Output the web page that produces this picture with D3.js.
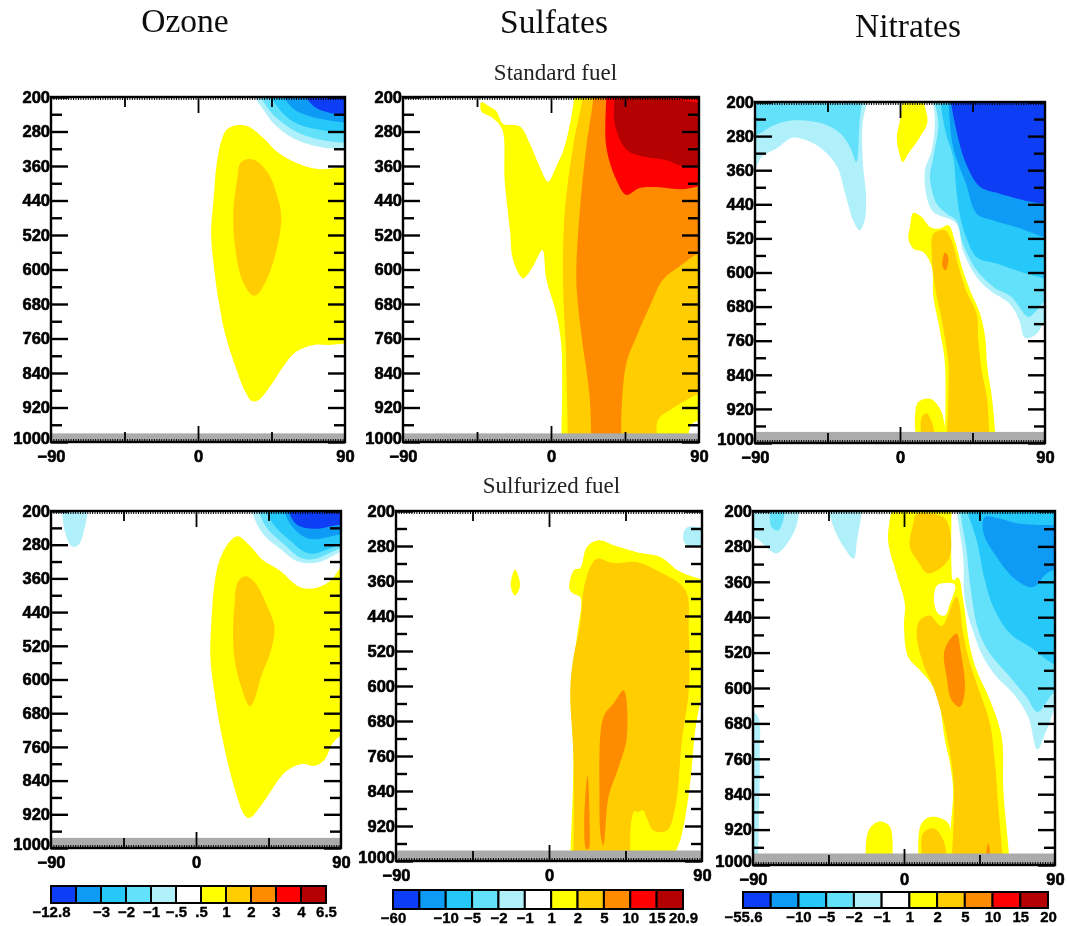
<!DOCTYPE html>
<html><head><meta charset="utf-8">
<script src="https://cdn.jsdelivr.net/npm/d3@7"></script>
<style>html,body{margin:0;padding:0;background:#fff}svg{display:block}</style>
</head><body><div id="chart"></div>
<script>
// Contour level colours, coldest to warmest (index = level)
const levelColors = ["#0a3cf5","#0a9bf5","#28c8fa","#64e1fa","#aff0fa","#ffffff","#ffff00","#ffcd00","#ff8c00","#ff0000","#b40000"];
const pressureMajor = [200,280,360,440,520,600,680,760,840,920,1000];
const pressureMinor = [240,320,400,480,560,640,720,800,880,960];
const latLabelled = [-90,0,90];
const latInner = [-45,45];
const latCentre = [0];
const latFine = d3.range(-90,90.1,1.5);

// Each contour: [level, [[latitude, pressure], ...]] in paint order
const ozoneStandard = [
 [6,[[21.6,267],[30,267],[40,295],[48,326],[58,349],[73,367],[92,362],[92,771],[80,775],[71,775],[60,791],[52,826],[44,872],[37,903],[33,905],[29,884],[23,826],[16.5,748],[12.5,671],[10,601],[8,516],[9.5,439],[11.5,353],[14.5,299],[17.5,276]]],
 [7,[[31,344],[36,349],[43,377],[48,423],[51,477],[48,555],[42,624],[36,659],[33,659],[27,624],[22.7,547],[21.6,469],[24,392],[26,353]]],
 [4,[[34,191],[40,229],[46,260],[58,295],[73,315],[83,320],[93,322],[93,191]]],
 [3,[[38,191],[45,237],[52,260],[62,284],[75,299],[93,307],[93,191]]],
 [2,[[44,191],[50,229],[58,257],[69,272],[93,284],[93,191]]],
 [1,[[52,191],[58,226],[69,245],[93,260],[93,191]]],
 [0,[[65.5,191],[71,222],[81,237],[93,241],[93,191]]]
];
const sulfateStandard = [
 [6,[[-42.4,212],[-38.3,220],[-33.2,233],[-29.2,262],[-19,268],[-13,307],[-6.9,361],[-1.8,396],[3.2,361],[8.3,315],[14.4,191],[95,191],[95,1010],[6.3,1010],[6.3,779],[3.2,702],[-2.8,624],[-5.3,555],[-11,593],[-17,620],[-23,578],[-25,508],[-28.2,392],[-29.6,276],[-35.3,249],[-42.4,233]]],
 [5,[[83,1010],[86,957],[95,950],[95,1010]]],
 [7,[[19.5,191],[13.4,315],[8.3,469],[7.3,624],[8.9,779],[10.3,1010],[65,1010],[65,950],[74,922],[86,895],[95,880],[95,191]]],
 [8,[[26,191],[21.5,315],[17.4,469],[15.4,624],[18.4,748],[23.5,895],[24.5,1010],[42.8,1010],[42.8,934],[45.8,818],[51.9,756],[60,686],[68,624],[78,593],[94.5,555],[94.5,191]]],
 [9,[[33.6,191],[33.6,315],[39.7,392],[45.8,427],[53.9,411],[66,409],[80,414],[94.5,404],[94.5,191]]],
 [10,[[38.7,191],[38.7,260],[45.8,322],[56,338],[70,346],[81,361],[94.5,357],[94.5,214],[78,206],[66,191]]]
];
const nitrateStandard = [
 [4,[[-19,180],[-23,243],[-23,345],[-21,423],[-22,478],[-25,501],[-29,478],[-34,415],[-39,352],[-47.6,313],[-58,290],[-67,284],[-75.5,306],[-86,329],[-90,352],[-95,352],[-95,180]]],
 [3,[[-23,180],[-25,243],[-27,341],[-31,306],[-37,274],[-47.6,251],[-66,243],[-78.6,255],[-90,278],[-95,278],[-95,180]]],
 [6,[[2,180],[13.5,180],[17,247],[12.4,282],[5.2,321],[1.7,341],[-0.4,321],[-2,282],[0,243]]],
 [4,[[19.7,180],[21.7,243],[19.7,313],[15.5,360],[16.6,423],[20.7,458],[35,485],[39,548],[47.6,611],[55.9,642],[68,673],[74,712],[77.6,753],[83.8,747],[89,720],[95,689],[95,180]]],
 [3,[[20.7,180],[23.8,251],[20.7,329],[18.6,376],[22.8,439],[29,462],[35,478],[39,532],[47.6,595],[58,634],[69,657],[79.7,704],[84.8,689],[95,650],[95,180]]],
 [2,[[24.8,180],[28,266],[33,329],[35,407],[37,462],[41,517],[47.6,564],[60,579],[72,595],[95,618],[95,180]]],
 [1,[[30,180],[33,306],[41,392],[47.6,462],[58,478],[72,493],[95,521],[95,180]]],
 [0,[[31,180],[35,266],[41,345],[49.7,399],[62,415],[82.8,435],[95,439],[95,180]]],
 [6,[[8.3,460],[13.5,470],[18.6,493],[24.8,497],[30,489],[34,525],[39,595],[43.5,642],[49.7,697],[52.8,751],[54.2,822],[57,892],[59.6,1010],[27.9,1010],[27.9,814],[24.8,736],[20.7,657],[19.7,587],[14.5,552],[8.3,544],[5.2,521],[6.2,493]]],
 [7,[[20.7,509],[27.9,501],[32,525],[37,595],[41,642],[47.6,697],[48.6,759],[50.7,830],[54.2,900],[55.5,1010],[29,1010],[30,892],[30,814],[25.9,712],[21.7,634],[19.7,556]]],
 [8,[[27.9,553],[30,564],[28.3,595],[26.5,587],[26.5,568]]],
 [6,[[10.3,1010],[9.3,939],[11.4,904],[18.6,896],[24.8,919],[27.9,962],[28.6,1010]]],
 [7,[[13.5,1010],[13.5,939],[16.6,931],[19.7,951],[22.8,1010]]]
];
const ozoneSulfurized = [
 [4,[[-83.4,190],[-67,190],[-69,238],[-73,281],[-77,284],[-81,254]]],
 [6,[[26,260],[33,281],[41.5,317],[52,341],[64,380],[72.4,384],[82.8,368],[93,325],[93,727],[85,751],[79.7,791],[73.5,805],[66,800],[56,818],[49.7,846],[41.5,893],[33,929],[30,921],[23,846],[15.7,727],[11.5,633],[8.9,546],[9.5,467],[11.5,372],[14.6,317],[20.8,273]]],
 [7,[[31,355],[37,372],[43.5,420],[48.7,475],[46.6,530],[40.4,593],[35.3,656],[33.2,663],[28,617],[24,554],[23,491],[24,420],[26,368]]],
 [4,[[34,190],[41.5,254],[52,289],[64,321],[76.6,321],[93,293],[93,190]]],
 [3,[[38.4,190],[43.5,238],[54,277],[66,313],[74.5,313],[93,285],[93,190]]],
 [2,[[42.5,190],[47.7,230],[58,269],[70.4,301],[93,277],[93,190]]],
 [1,[[54,190],[60,238],[70.4,266],[93,254],[93,190]]],
 [0,[[57,190],[62,230],[72.4,242],[93,230],[93,190]]]
];
const sulfateSulfurized = [
 [6,[[-20,334],[-17,370],[-20,393],[-22.5,370]]],
 [4,[[78.8,259],[81,238],[93,238],[93,278],[81,278]]],
 [6,[[29.2,267],[38,278],[51.7,294],[65.5,305],[77.2,339],[93,358],[93,534],[89.4,625],[86,701],[83,823],[78.2,938],[72.3,1010],[12.5,1010],[14.4,762],[12.9,610],[16.4,488],[18.4,397],[14.4,389],[12,378],[14.8,334],[18.4,330],[22.3,282]]],
 [7,[[28.2,309],[38,319],[51.7,317],[63.5,336],[80.2,381],[82.2,473],[82.2,610],[78.2,724],[74.3,877],[69.4,930],[61.5,930],[57.6,903],[55.3,884],[52,888],[50.2,886],[48.2,915],[47.8,1010],[14.4,1010],[14.4,762],[12.5,610],[14.4,534],[18.4,458],[20.3,381],[24.3,328]]],
 [8,[[43.9,610],[45.8,717],[41,785],[35,854],[32,964],[30.5,945],[29.7,854],[32,671],[38,640]]],
 [8,[[22.7,804],[23.9,915],[23.3,972],[21.9,972],[20.7,915]]]
];
const nitrateSulfurized = [
 [4,[[-62,191],[-66,251],[-76,296],[-82,281],[-88,262],[-92,259],[-92,191]]],
 [3,[[-80,191],[-79,236],[-75,244],[-72,221],[-71,191]]],
 [4,[[-45,191],[-25,191],[-28,266],[-30,308],[-36,281],[-42,236]]],
 [4,[[-92,650],[-87,665],[-86,755],[-87,1010],[-92,1010]]],
 [4,[[31.3,191],[35.3,304],[36.3,402],[42.3,484],[47.2,530],[55.2,575],[65,612],[74,665],[79.5,739],[85,695],[93,635],[93,191]]],
 [3,[[33.3,191],[37.3,289],[39.3,364],[44.3,469],[51.2,522],[63.2,575],[73,620],[79.5,654],[89,612],[93,605],[93,191]]],
 [2,[[37.3,191],[43.3,266],[48.2,356.5],[53.2,417],[63.2,477],[75,507],[93,552],[93,191]]],
 [1,[[48.2,213.5],[57,217],[69,229],[93,232],[93,330],[85,341],[77,372],[67,356.5],[55.2,304],[47.2,247]]],
 [6,[[-7.5,191],[28.3,191],[28.3,326],[29.3,356.5],[32.3,350.5],[35.3,402],[39.3,507],[43.3,560],[51.2,627],[58.2,710],[59.2,831],[63.2,1010],[26.4,1010],[27.7,921],[29.3,831],[27.4,770],[24.4,718],[21.4,642.5],[17.4,597],[9.5,560],[2.5,530],[0,462],[0.5,409],[-4.5,341],[-9.5,266]]],
 [5,[[18.4,379],[20.4,366],[30.3,366],[27.4,409],[24.4,436],[20.4,432],[18,409]]],
 [7,[[5.5,229],[7.5,207.5],[23.4,213.5],[27.4,244],[26.4,311],[14.4,341],[8.5,315],[3.5,281]]],
 [7,[[15.4,436],[22.4,460],[31.3,394],[35.3,477],[38.3,530],[43.3,590],[51.2,680],[54.2,770],[56.2,868],[59.2,1010],[28.3,1010],[29.7,883],[29.3,800],[26.4,725],[22.4,658],[17.4,597],[11.4,545],[7.5,477],[9.5,447]]],
 [8,[[31.3,477],[33.7,515],[36.3,605],[33.3,642.5],[28.3,627],[25.4,575],[23.8,522],[26.4,496]]],
 [8,[[50.2,951],[52.2,1010],[48.2,1010]]],
 [6,[[-23,1010],[-21,921],[-15,902],[-8.5,913],[-7,1010]]],
 [6,[[8.5,1010],[10.4,906],[16.4,891],[26.4,906],[27.4,1010]]],
 [7,[[11,1010],[11.4,928.5],[17.4,917],[23.4,943],[25.8,1010]]]
];

const columnTitles = ["Ozone","Sulfates","Nitrates"];
const rowTitles = ["Standard fuel","Sulfurized fuel"];
const ozoneBarLabels = ["−12.8","","−3","−2","−1","−.5",".5","1","2","3","4","6.5"];
const sulfateBarLabels = ["−60","","−10","−5","−2","−1","1","2","5","10","15","20.9"];
const nitrateBarLabels = ["−55.6","","−10","−5","−2","−1","1","2","5","10","15","20"];
const surfaceTop = [980,980,974,976,976,974];

// Layout
const W = 1067, H = 926;
const frames = [
 {x0:51,x1:345,y0:97,y1:442,c:ozoneStandard},
 {x0:403,x1:699,y0:97,y1:442,c:sulfateStandard},
 {x0:755,x1:1045,y0:102,y1:443,c:nitrateStandard},
 {x0:51,x1:341,y0:511,y1:848,c:ozoneSulfurized},
 {x0:396,x1:702,y0:511,y1:861,c:sulfateSulfurized},
 {x0:753,x1:1055,y0:511,y1:865,c:nitrateSulfurized}
];
const bars = [
 {x0:51,x1:326,y0:886,y1:903,labels:ozoneBarLabels},
 {x0:393,x1:683,y0:890,y1:909,labels:sulfateBarLabels},
 {x0:743,x1:1048,y0:892,y1:908,labels:nitrateBarLabels}
];

// Where a ring runs along the outside of the plot, push it further out so the
// smoothing cannot bulge back into the visible field.
function sealed(ring){
  const out = [];
  ring.forEach((p,i)=>{
    const q = ring[(i+1)%ring.length];
    out.push(p);
    if(p[1]>=1000&&q[1]>=1000) out.push([p[0],p[1]+70],[q[0],q[1]+70]);
    else if(p[1]<=200&&q[1]<=200) out.push([p[0],p[1]-70],[q[0],q[1]-70]);
    else if(p[0]>=90&&q[0]>=90) out.push([p[0]+25,p[1]],[q[0]+25,q[1]]);
    else if(p[0]<=-90&&q[0]<=-90) out.push([p[0]-25,p[1]],[q[0]-25,q[1]]);
  });
  return out;
}

const svg = d3.select("#chart").append("svg").attr("width",W).attr("height",H).attr("viewBox",[0,0,W,H]);
const defs = svg.append("defs");
function blur(id,sd){
  defs.append("filter").attr("id",id).attr("filterUnits","userSpaceOnUse")
    .attr("x",0).attr("y",0).attr("width",W).attr("height",H)
    .append("feGaussianBlur").attr("stdDeviation",sd);
}
blur("soft",0.7); blur("softer",0.4); blur("softest",0.7);

const fieldLayer = svg.append("g").attr("filter","url(#soft)");
const axisLayer = svg.append("g").attr("filter","url(#soft)");
const labelLayer = svg.append("g").attr("filter","url(#softest)");
const titleLayer = svg.append("g").attr("filter","url(#softer)");

const boldFont = "'Liberation Sans',Arial,sans-serif";

function styleLabels(g,size,stroke){
  g.select(".domain").remove();
  g.selectAll("text").attr("font-family",boldFont).attr("font-weight","bold")
    .attr("font-size",size).attr("fill","#000").attr("stroke","#000").attr("stroke-width",stroke);
}

frames.forEach((f,i)=>{
  const x = d3.scaleLinear().domain([-90,90]).range([f.x0,f.x1]);
  const y = d3.scaleLinear().domain([200,1000]).range([f.y0,f.y1]);
  const clipId = "clip"+i;
  defs.append("clipPath").attr("id",clipId).append("rect")
    .attr("x",x(-90)).attr("y",y(200)).attr("width",x(90)-x(-90)).attr("height",y(1000)-y(200));
  const line = d3.line().x(d=>x(d[0])).y(d=>y(d[1])).curve(d3.curveCatmullRomClosed.alpha(0.5));
  const g = fieldLayer.append("g").attr("clip-path",`url(#${clipId})`);
  g.append("rect").attr("x",x(-90)).attr("y",y(200)).attr("width",x(90)-x(-90)).attr("height",y(1000)-y(200)).attr("fill","#fff");
  g.selectAll("path").data(f.c).join("path")
    .attr("d",d=>line(sealed(d[1]))).attr("fill",d=>levelColors[d[0]]);
  g.append("rect").attr("x",x(-90)).attr("y",y(surfaceTop[i]))
    .attr("width",x(90)-x(-90)).attr("height",y(1000)-y(surfaceTop[i])).attr("fill","#ababab");

  const a = axisLayer.append("g");
  const put = (axis,tx,ty,w)=>{
    const s = a.append("g").attr("transform",`translate(${tx},${ty})`).call(axis);
    s.select(".domain").remove();
    s.selectAll("line").attr("stroke","#000").attr("stroke-width",w);
    s.selectAll("text").remove();
  };
  put(d3.axisLeft(y).tickValues(pressureMajor).tickSize(-17),x(-90),0,2.4);
  put(d3.axisLeft(y).tickValues(pressureMinor).tickSize(-11),x(-90),0,2.4);
  put(d3.axisRight(y).tickValues(pressureMajor).tickSize(-17),x(90),0,2.4);
  put(d3.axisRight(y).tickValues(pressureMinor).tickSize(-11),x(90),0,2.4);
  put(d3.axisBottom(x).tickValues(latInner).tickSize(-10),0,y(1000),1.8);
  put(d3.axisTop(x).tickValues(latInner).tickSize(-10),0,y(200),1.8);
  put(d3.axisBottom(x).tickValues(latCentre).tickSize(-16),0,y(1000),1.8);
  put(d3.axisTop(x).tickValues(latCentre).tickSize(-16),0,y(200),1.8);
  put(d3.axisBottom(x).tickValues(latFine).tickSize(-3),0,y(1000),1);
  put(d3.axisTop(x).tickValues(latFine).tickSize(-3),0,y(200),1);
  a.append("rect").attr("x",x(-90)).attr("y",y(200)).attr("width",x(90)-x(-90)).attr("height",y(1000)-y(200))
    .attr("fill","none").attr("stroke","#000").attr("stroke-width",2.4);

  const yl = labelLayer.append("g").attr("transform",`translate(${x(-90)},0)`)
    .call(d3.axisLeft(y).tickValues(pressureMajor).tickSize(0).tickPadding(1).tickFormat(d3.format("d")));
  styleLabels(yl,16.5,0.6);
  // lift the bottom pressure label clear of the latitude label beneath it
  yl.selectAll(".tick").filter(d=>d===1000).select("text").attr("y",-4);
  const xl = labelLayer.append("g").attr("transform",`translate(0,${y(1000)})`)
    .call(d3.axisBottom(x).tickValues(latLabelled).tickSize(0).tickPadding(8).tickFormat(d3.format("d")));
  styleLabels(xl,16.5,0.6);
});

bars.forEach(b=>{
  const cellScale = d3.scaleLinear().domain([0,levelColors.length]).range([b.x0,b.x1]);
  const g = axisLayer.append("g");
  g.selectAll("rect").data(levelColors).join("rect")
    .attr("x",(d,i)=>cellScale(i)).attr("y",b.y0)
    .attr("width",(d,i)=>cellScale(i+1)-cellScale(i)).attr("height",b.y1-b.y0)
    .attr("fill",d=>d).attr("stroke","#000").attr("stroke-width",2);
  const ax = labelLayer.append("g").attr("transform",`translate(0,${b.y1})`)
    .call(d3.axisBottom(cellScale).tickValues(d3.range(b.labels.length)).tickSize(0).tickPadding(3).tickFormat(i=>b.labels[i]));
  styleLabels(ax,15,0.35);
});

const serif = "'Liberation Serif','Times New Roman',serif";
const titleX = [185,554,908], titleY = [32,33,37];
titleLayer.selectAll("text.col").data(columnTitles).join("text").attr("class","col")
  .attr("x",(d,i)=>titleX[i]).attr("y",(d,i)=>titleY[i]).attr("text-anchor","middle")
  .attr("font-family",serif).attr("font-size",33.5).attr("fill","#111").text(d=>d);
const rowX = [555.5,551.5], rowY = [80,493];
titleLayer.selectAll("text.row").data(rowTitles).join("text").attr("class","row")
  .attr("x",(d,i)=>rowX[i]).attr("y",(d,i)=>rowY[i]).attr("text-anchor","middle")
  .attr("font-family",serif).attr("font-size",23).attr("fill","#222").text(d=>d);
</script></body></html>
